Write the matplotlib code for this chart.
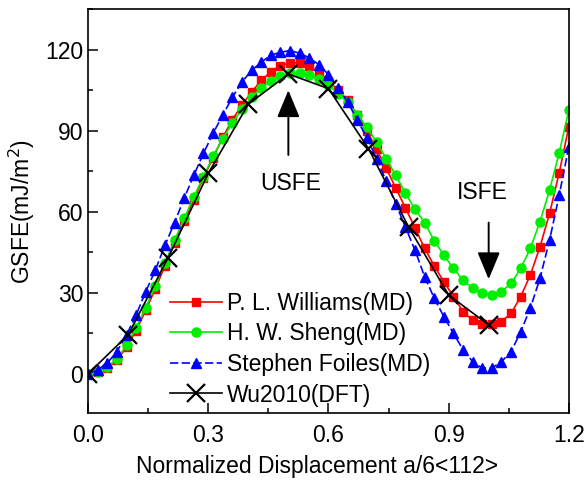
import numpy as np
import matplotlib
matplotlib.use("Agg")
import matplotlib.pyplot as plt
from matplotlib.ticker import MultipleLocator

plt.rcParams.update({"font.family": "Liberation Sans", "font.size": 16.5,
                     "xtick.direction": "in", "ytick.direction": "in"})

# MD curves sampled every 0.024 along a/6<112>
x_md = np.linspace(0.0, 1.2, 51)

williams = [0, 0.7, 2.2, 5.0, 9.8, 16.0, 23.5, 31.5, 40.0, 48.5,
            56.5, 64.5, 72.5, 80.0, 87.5, 94.0, 99.5, 104.3, 108.6, 111.7,
            114.1, 115.1, 115.1, 113.9, 111.7, 108.5, 105.0, 101.3, 96.0, 90.0,
            83.3, 76.2, 68.8, 61.5, 54.0, 46.5, 40.0, 34.1, 28.6, 23.0,
            19.9, 18.5, 18.5, 19.3, 22.4, 28.6, 36.6, 47.0, 59.4, 74.4,
            91.4]
sheng = [0, 0.8, 2.5, 5.5, 10.5, 17.0, 24.5, 32.5, 41.0, 49.5,
         57.5, 65.5, 73.0, 80.5, 87.0, 92.8, 98.0, 102.5, 105.8, 108.5,
         110.4, 111.3, 111.2, 110.5, 109.2, 107.0, 103.7, 100.6, 96.0, 91.4,
         85.8, 79.7, 73.5, 66.9, 61.0, 56.0, 49.3, 44.0, 39.0, 34.7,
         31.7, 29.8, 29.2, 30.4, 33.5, 39.0, 46.4, 56.3, 68.0, 81.8,
         97.5]
foiles = [0, 1.5, 4.0, 8.2, 14.4, 21.8, 30.4, 38.4, 47.6, 56.0,
          65.0, 73.5, 81.6, 89.0, 95.7, 102.3, 108.0, 112.3, 115.3, 118.0,
          119.0, 119.7, 118.7, 117.0, 114.5, 110.8, 106.0, 100.6, 94.0, 87.4,
          79.7, 71.4, 63.0, 54.4, 45.8, 36.0, 28.0, 21.2, 15.0, 8.9,
          4.5, 2.1, 2.1, 4.5, 8.2, 15.6, 24.3, 35.3, 49.5, 66.1,
          84.0]

x_dft = [0.0, 0.1, 0.2, 0.3, 0.4, 0.5, 0.6, 0.7, 0.8, 0.9, 1.0]
wu2010 = [0, 14.4, 43.0, 74.2, 99.8, 111.0, 105.6, 83.4, 54.4, 29.2, 18.1]

fig = plt.figure(figsize=(5.87, 4.83), dpi=100)
ax = fig.add_axes([0.15, 0.145, 0.819, 0.836])

ax.plot(x_md, williams, "-s", color="#ff0000", lw=1.2, ms=6, label="P. L. Williams(MD)")
ax.plot(x_md, sheng, "-o", color="#00ee00", lw=1.2, ms=6.5, label="H. W. Sheng(MD)")
ax.plot(x_md, foiles, "^", ls=(0, (5, 2)), color="#0000ff", lw=1.2, ms=7.5,
        label="Stephen Foiles(MD)")
ax.plot(x_dft, wu2010, "-x", color="black", lw=1.2, ms=13, mew=1.6, label="Wu2010(DFT)")

arrow = dict(arrowstyle="-|>,head_length=1.2,head_width=0.5", color="black", lw=1.4)
ax.annotate("", xy=(0.5, 106), xytext=(0.5, 80), arrowprops=arrow, fontsize=14)
ax.text(0.505, 70.5, "USFE", ha="center", va="center")
ax.annotate("", xy=(1.0, 34), xytext=(1.0, 57), arrowprops=arrow, fontsize=14)
ax.text(0.985, 67.2, "ISFE", ha="center", va="center")

ax.set_xlim(0, 1.2)
ax.set_ylim(-14.5, 135)
ax.xaxis.set_major_locator(MultipleLocator(0.3))
ax.xaxis.set_minor_locator(MultipleLocator(0.15))
ax.yaxis.set_major_locator(MultipleLocator(30))
ax.yaxis.set_minor_locator(MultipleLocator(15))
ax.xaxis.set_major_formatter(plt.FuncFormatter(lambda v, p: f"{v:.1f}"))
ax.tick_params(which="major", length=7, width=1.1)
ax.tick_params(which="minor", length=3.5, width=1.1)
ax.tick_params(axis="x", pad=8)
for s in ax.spines.values():
    s.set_linewidth(1.2)

ax.set_xlabel("Normalized Displacement a/6<112>", labelpad=6)
ax.xaxis.label.set_x(0.477)
ax.set_ylabel("GSFE(mJ/m$^2$)", labelpad=6)

ax.legend(loc="upper left", bbox_to_anchor=(0.17, 0.30), frameon=False, numpoints=1,
          borderaxespad=0, borderpad=0, handlelength=2.3, labelspacing=0.33,
          handletextpad=0.2)

fig.savefig("out.png", dpi=100)
